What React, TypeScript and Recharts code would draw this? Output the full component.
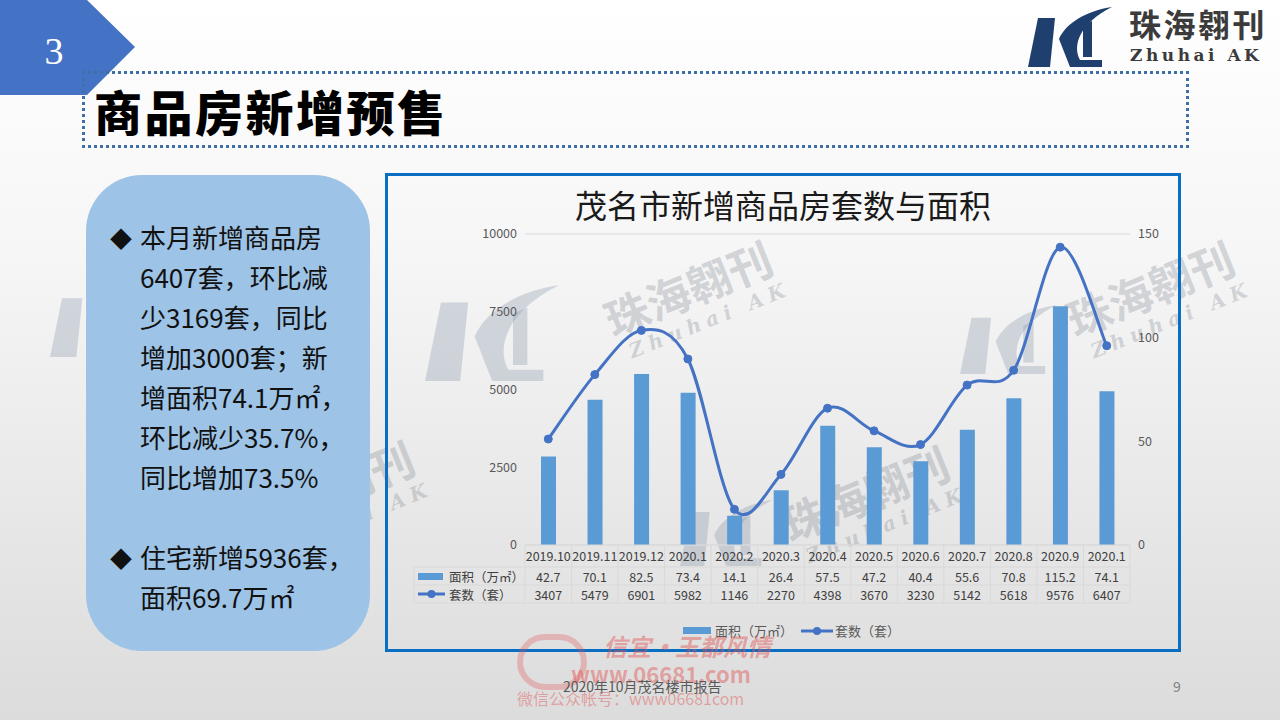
import React from 'react';
import { ComposedChart, Bar, Line, XAxis, YAxis, CartesianGrid } from 'recharts';

// category labels (last one is 2020.10 truncated to "2020.1" in the source)
const months = ['2019.10', '2019.11', '2019.12', '2020.1', '2020.2', '2020.3', '2020.4', '2020.5', '2020.6', '2020.7', '2020.8', '2020.9', '2020.1'];
// 面积（万㎡）
const areaValues = [42.7, 70.1, 82.5, 73.4, 14.1, 26.4, 57.5, 47.2, 40.4, 55.6, 70.8, 115.2, 74.1];
// 套数（套）
const unitValues = [3407, 5479, 6901, 5982, 1146, 2270, 4398, 3670, 3230, 5142, 5618, 9576, 6407];

const leftTicks = [0, 2500, 5000, 7500, 10000];
const rightTicks = [0, 50, 100, 150];

const bulletLines1 = ['本月新增商品房', '6407套，环比减', '少3169套，同比', '增加3000套；新', '增面积74.1万㎡，', '环比减少35.7%，', '同比增加73.5%'];
const bulletLines2 = ['住宅新增5936套，', '面积69.7万㎡'];

const data = months.map((m, i) => ({ month: m, area: areaValues[i], units: unitValues[i] }));

const BAR_COLOR = '#5B9BD5';
const LINE_COLOR = '#4472C4';
const GRID = '#d9d9d9';
const FONT = '"Noto Sans CJK SC", "Noto Sans", sans-serif';
const PLOT_W = 605;
const BAND = PLOT_W / months.length;

// excel-like smoothed line (catmull-rom style bezier)
function excelCurve(context: any) {
  let pts: number[][] = [];
  return {
    areaStart() {},
    areaEnd() {},
    lineStart() {
      pts = [];
    },
    point(x: number, y: number) {
      pts.push([+x, +y]);
    },
    lineEnd() {
      if (!pts.length) return;
      context.moveTo(pts[0][0], pts[0][1]);
      for (let i = 0; i < pts.length - 1; i++) {
        const p0 = pts[i - 1] || pts[i];
        const p1 = pts[i];
        const p2 = pts[i + 1];
        const p3 = pts[i + 2] || p2;
        context.bezierCurveTo(
          p1[0] + (p2[0] - p0[0]) / 6,
          p1[1] + (p2[1] - p0[1]) / 6,
          p2[0] - (p3[0] - p1[0]) / 6,
          p2[1] - (p3[1] - p1[1]) / 6,
          p2[0],
          p2[1]
        );
      }
    },
  };
}

// x axis tick that also draws the data table cells under each category
function TableTick(props: any) {
  const { x, y, payload } = props;
  const i = payload.index;
  const l = x - BAND / 2;
  const r = x + BAND / 2;
  const txt = { fontSize: 12.5, fill: '#404040', fontFamily: FONT, textAnchor: 'middle' as const, dominantBaseline: 'central' as const };
  return (
    <g>
      <line x1={l} x2={l} y1={y} y2={y + 58} stroke={GRID} />
      {i === months.length - 1 && <line x1={r} x2={r} y1={y} y2={y + 58} stroke={GRID} />}
      <line x1={l} x2={r} y1={y + 22} y2={y + 22} stroke={GRID} />
      <line x1={l} x2={r} y1={y + 40} y2={y + 40} stroke={GRID} />
      <line x1={l} x2={r} y1={y + 58} y2={y + 58} stroke={GRID} />
      <text x={x} y={y + 10} {...txt}>{months[i]}</text>
      <text x={x} y={y + 31} {...txt}>{areaValues[i]}</text>
      <text x={x} y={y + 49} {...txt}>{unitValues[i]}</text>
      {i === 0 && (
        <g>
          <line x1={l - 111} x2={l} y1={y + 22} y2={y + 22} stroke={GRID} />
          <line x1={l - 111} x2={l} y1={y + 40} y2={y + 40} stroke={GRID} />
          <line x1={l - 111} x2={l} y1={y + 58} y2={y + 58} stroke={GRID} />
          <line x1={l - 111} x2={l - 111} y1={y + 22} y2={y + 58} stroke={GRID} />
          <rect x={l - 107} y={y + 28} width={25} height={7} fill={BAR_COLOR} />
          <text x={l - 76} y={y + 31} {...txt} textAnchor="start">面积（万㎡）</text>
          <line x1={l - 107} x2={l - 80} y1={y + 49} y2={y + 49} stroke={LINE_COLOR} strokeWidth={3} />
          <circle cx={l - 93.5} cy={y + 49} r={4} fill={LINE_COLOR} />
          <text x={l - 76} y={y + 49} {...txt} textAnchor="start">套数（套）</text>
        </g>
      )}
    </g>
  );
}

function Logo({ color }: { color: string }) {
  return (
    <g fill={color}>
      <path d="M10,11 L27,11 L22,60 L0,60 Z" />
      <path d="M84,0 C58,4 38,16 31,32 L42,60 L74,60 L74,53 L52,53 C44,38 52,16 84,0 Z" />
      <path d="M55,18 L64,14 L64,50 L55,50 Z" />
    </g>
  );
}

function Watermark({ left, top, logo }: { left: number; top: number; logo?: { x: number; y: number; s: number } }) {
  return (
    <>
      {logo && (
        <svg style={{ position: 'absolute', left: logo.x, top: logo.y, overflow: 'visible' }} width={84 * logo.s} height={60 * logo.s}>
          <g transform={`scale(${logo.s})`}>
            <Logo color="rgba(120,135,160,0.28)" />
          </g>
        </svg>
      )}
      <div
        style={{
          position: 'absolute',
          left,
          top,
          transform: 'rotate(-22deg)',
          transformOrigin: 'left top',
          color: 'rgba(120,128,140,0.3)',
          whiteSpace: 'nowrap',
          lineHeight: 1,
        }}
      >
        <div style={{ fontFamily: FONT, fontWeight: 700, fontSize: 44 }}>珠海翱刊</div>
        <div style={{ fontFamily: '"DejaVu Serif", serif', fontWeight: 700, fontStyle: 'italic', fontSize: 20, letterSpacing: 6, marginTop: 6, marginLeft: 10 }}>Zhuhai AK</div>
      </div>
    </>
  );
}

export default function App() {
  return (
    <div
      style={{
        position: 'absolute',
        left: 0,
        top: 0,
        width: 1280,
        height: 720,
        overflow: 'hidden',
        background: 'linear-gradient(180deg, #ffffff 0%, #f6f6f6 35%, #dcdcdc 100%)',
        fontFamily: FONT,
      }}
    >
      {/* section tab */}
      <svg style={{ position: 'absolute', left: 0, top: 0 }} width={140} height={100}>
        <polygon points="0,0 87,0 135,47 87,95 0,95" fill={LINE_COLOR} />
        <text x={54} y={64} fill="#fff" fontSize={38} fontFamily='"Liberation Serif", serif' textAnchor="middle">3</text>
      </svg>

      {/* header logo */}
      <svg style={{ position: 'absolute', left: 1028, top: 7 }} width={90} height={64}>
        <Logo color="#1F3F6E" />
      </svg>
      <div style={{ position: 'absolute', left: 1129, top: 6, fontSize: 32, fontWeight: 700, color: '#3b3b3b', letterSpacing: 2.5, lineHeight: 1.1 }}>珠海翱刊</div>
      <div style={{ position: 'absolute', left: 1130, top: 45, fontSize: 17, fontWeight: 700, color: '#3b3b3b', letterSpacing: 3.5, fontFamily: '"DejaVu Serif", serif' }}>Zhuhai AK</div>

      {/* title box */}
      <div style={{ position: 'absolute', left: 82, top: 71, width: 1107, height: 77, boxSizing: 'border-box', border: '3px dotted #3f6fa8' }} />
      <div style={{ position: 'absolute', left: 94, top: 82, fontSize: 48, fontWeight: 900, color: '#000', letterSpacing: 2.5, lineHeight: 1.2 }}>商品房新增预售</div>

      {/* watermarks */}
      <Watermark left={598} top={300} logo={{ x: 425, y: 285, s: 1.6 }} />
      <Watermark left={1060} top={300} logo={{ x: 960, y: 305, s: 1.15 }} />
      <Watermark left={775} top={505} logo={{ x: 680, y: 500, s: 1.1 }} />
      <Watermark left={240} top={500} logo={{ x: 50, y: 285, s: 1.2 }} />

      {/* left text panel */}
      <div
        style={{
          position: 'absolute',
          left: 86,
          top: 175,
          width: 284,
          height: 476,
          borderRadius: 56,
          background: '#9DC3E6',
          color: '#111',
          fontSize: 26,
          lineHeight: '40px',
        }}
      >
        <div style={{ position: 'absolute', left: 54, top: 42 }}>
          {bulletLines1.map((t, i) => (
            <div key={i} style={{ whiteSpace: 'nowrap' }}>{t}</div>
          ))}
          <div style={{ height: 40 }} />
          {bulletLines2.map((t, i) => (
            <div key={i} style={{ whiteSpace: 'nowrap' }}>{t}</div>
          ))}
        </div>
        <div style={{ position: 'absolute', left: 24, top: 42, fontSize: 22 }}>◆</div>
        <div style={{ position: 'absolute', left: 24, top: 362, fontSize: 22 }}>◆</div>
      </div>

      {/* chart frame */}
      <div style={{ position: 'absolute', left: 385, top: 173, width: 796, height: 479, boxSizing: 'border-box', border: '3px solid #0A6FC2' }} />
      <div style={{ position: 'absolute', left: 388, top: 185, width: 790, textAlign: 'center', fontSize: 32, color: '#1a1a1a', lineHeight: 1.2 }}>
        茂名市新增商品房套数与面积
      </div>

      <div style={{ position: 'absolute', left: 388, top: 176 }}>
        <ComposedChart width={789} height={473} data={data} margin={{ top: 58, right: 0, left: 0, bottom: 84 }}>
          <CartesianGrid vertical={false} stroke={GRID} />
          <XAxis
            dataKey="month"
            interval={0}
            tickLine={false}
            tickSize={0}
            tickMargin={0}
            axisLine={{ stroke: GRID }}
            height={20}
            tick={<TableTick />}
          />
          <YAxis
            yAxisId="left"
            domain={[0, 10000]}
            ticks={leftTicks}
            width={137}
            axisLine={false}
            tickLine={false}
            tick={{ fontSize: 12.5, fill: '#595959', fontFamily: FONT }}
          />
          <YAxis
            yAxisId="right"
            orientation="right"
            domain={[0, 150]}
            ticks={rightTicks}
            width={47}
            axisLine={false}
            tickLine={false}
            tick={{ fontSize: 12.5, fill: '#595959', fontFamily: FONT }}
          />
          <Bar yAxisId="right" dataKey="area" name="面积（万㎡）" fill={BAR_COLOR} barSize={15} isAnimationActive={false} />
          <Line
            yAxisId="left"
            dataKey="units"
            name="套数（套）"
            type={excelCurve as any}
            stroke={LINE_COLOR}
            strokeWidth={3}
            dot={{ r: 4, fill: LINE_COLOR, stroke: LINE_COLOR, strokeWidth: 1 }}
            isAnimationActive={false}
          />
        </ComposedChart>
      </div>

      {/* chart legend */}
      <div style={{ position: 'absolute', left: 683, top: 621, display: 'flex', alignItems: 'center', fontSize: 13, color: '#595959', whiteSpace: 'nowrap' }}>
        <span style={{ display: 'inline-block', width: 28, height: 7, background: BAR_COLOR, marginRight: 4 }} />
        <span>面积（万㎡）</span>
        <svg width={32} height={12} style={{ marginLeft: 8, marginRight: 2 }}>
          <line x1={0} x2={32} y1={6} y2={6} stroke={LINE_COLOR} strokeWidth={3} />
          <circle cx={16} cy={6} r={4} fill={LINE_COLOR} />
        </svg>
        <span>套数（套）</span>
      </div>

      {/* source watermark */}
      <div style={{ position: 'absolute', left: 517, top: 634, color: 'rgba(225,80,80,0.45)', lineHeight: 1, whiteSpace: 'nowrap' }}>
        <div style={{ position: 'absolute', left: 0, top: 0, width: 70, height: 56, borderRadius: 30, border: '6px solid rgba(225,80,80,0.3)', boxSizing: 'border-box' }} />
        <div style={{ position: 'absolute', left: 86, top: 0, fontSize: 24, fontStyle: 'italic', fontWeight: 700 }}>信宜·玉都风情</div>
        <div style={{ position: 'absolute', left: 54, top: 28, fontSize: 22, fontWeight: 700 }}>www.06681.com</div>
        <div style={{ position: 'absolute', left: 0, top: 56, fontSize: 16 }}>微信公众帐号：www06681com</div>
      </div>

      {/* footer */}
      <div style={{ position: 'absolute', left: 563, top: 676, fontSize: 14, color: '#595959' }}>2020年10月茂名楼市报告</div>
      <div style={{ position: 'absolute', left: 1173, top: 676, fontSize: 14, color: '#7f7f7f' }}>9</div>
    </div>
  );
}
